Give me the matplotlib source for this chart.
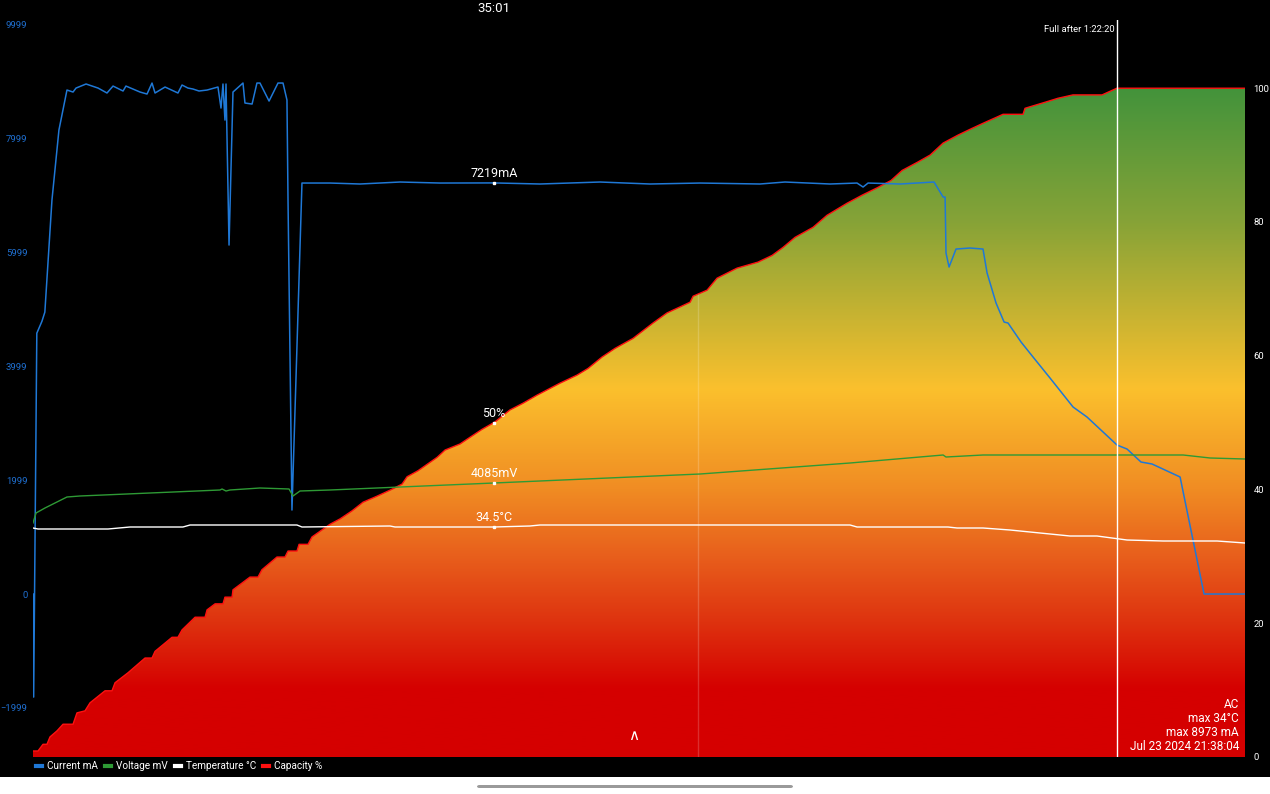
import numpy as np
import matplotlib
matplotlib.use("Agg")
import matplotlib.pyplot as plt
from matplotlib.colors import LinearSegmentedColormap
from matplotlib.lines import Line2D
from matplotlib.patches import Rectangle, FancyBboxPatch

plt.rcParams['font.family'] = ['Roboto', 'DejaVu Sans']

# ---- data (time in minutes since plug-in) ----
cap_t = [0, 0.38, 0.76, 1.06, 1.29, 1.82, 2.28, 3.04, 3.34, 3.95,
         4.33, 5.47, 6.00, 6.23, 7.22, 8.51, 9.04, 9.27, 10.56, 11.01,
         11.32, 12.31, 13.07, 13.22, 13.83, 14.43, 14.58, 15.12, 15.19, 16.48,
         17.09, 17.39, 18.53, 19.14, 19.37, 20.05, 20.21, 20.89, 21.19, 22.56,
         23.32, 24.23, 25.07, 26.13, 27.12, 28.03, 28.41, 29.24, 30.69, 31.30,
         32.43, 33.19, 34.11, 35.09, 36.23, 37.22, 38.28, 40.03, 41.32, 42.16,
         43.22, 44.21, 45.58, 47.10, 48.16, 49.91, 50.14, 51.20, 51.96, 53.48,
         55.07, 56.14, 56.97, 57.88, 59.25, 60.31, 61.83, 62.97, 64.11, 65.17,
         66.01, 67.15, 68.14, 69.13, 70.27, 71.33, 72.32, 73.23, 73.68, 75.20,
         75.35, 76.87, 77.86, 78.99, 81.20, 82.33, 92.06]
cap_pct = [0.9, 0.9, 1.9, 1.9, 3.0, 3.9, 4.9, 4.9, 6.6, 6.9,
           8.1, 9.9, 9.9, 11.1, 12.6, 14.8, 14.8, 15.8, 17.9, 17.9,
           19.0, 20.9, 20.9, 22.0, 22.9, 22.9, 23.9, 23.9, 25.0, 26.9,
           26.9, 28.0, 29.9, 29.9, 30.8, 30.8, 31.8, 31.8, 32.9, 34.8,
           35.6, 36.8, 38.1, 39.0, 39.9, 40.8, 41.9, 42.8, 44.8, 45.9,
           46.8, 47.8, 49.0, 50.1, 51.9, 52.9, 54.1, 55.9, 57.1, 58.1,
           59.8, 61.1, 62.6, 64.9, 66.4, 68.0, 68.9, 69.8, 71.6, 73.1,
           74.0, 75.0, 76.2, 77.7, 79.2, 81.0, 82.8, 84.0, 85.1, 86.2,
           87.7, 88.9, 90.0, 91.8, 93.0, 94.0, 94.9, 95.7, 96.1, 96.1,
           97.0, 97.9, 98.5, 99.0, 99.0, 100, 100]

cur_t = [0, 0.05, 0.29, 0.68, 0.90, 1.44, 1.97, 2.58, 3.04, 3.27,
         4.03, 4.94, 5.62, 6.08, 6.84, 7.06, 8.13, 8.66, 9.04, 9.27,
         10.03, 11.01, 11.32, 11.77, 12.15, 12.61, 13.22, 14.05, 14.28, 14.43,
         14.58, 14.66, 14.89, 15.19, 15.95, 16.10, 16.64, 17.01, 17.24, 17.93,
         18.61, 18.99, 19.29, 19.37, 19.67, 20.43, 22.56, 24.84, 27.88, 30.92,
         35.02, 38.51, 43.07, 46.87, 50.67, 55.22, 57.12, 60.54, 62.59, 63.05,
         63.43, 65.86, 68.44, 69.13, 69.28, 69.35, 69.58, 70.11, 71.17, 72.16,
         72.47, 73.15, 73.76, 74.06, 75.05, 75.96, 77.25, 79.00, 80.06, 82.34,
         83.10, 84.16, 85.00, 87.13, 88.95, 92.06]
cur_ma = [0, -1810, 4580, 4790, 4950, 6919, 8148, 8850, 8815, 8885,
          8956, 8885, 8798, 8920, 8833, 8920, 8815, 8780, 8973, 8798,
          8903, 8798, 8938, 8885, 8868, 8833, 8850, 8903, 8534, 8956,
          8323, 8956, 6128, 8815, 8973, 8622, 8604, 8973, 8973, 8657,
          8973, 8973, 8675, 6919, 1475, 7217, 7217, 7200, 7235, 7217,
          7219, 7200, 7235, 7200, 7217, 7200, 7235, 7200, 7217, 7147,
          7217, 7200, 7235, 6971, 6971, 5988, 5742, 6058, 6076, 6058,
          5637, 5110, 4776, 4759, 4425, 4162, 3793, 3284, 3108, 2616,
          2546, 2318, 2283, 2055, 0, 0]

volt_t = [0, 0.23, 0.91, 2.58, 3.57, 14.20, 14.36, 14.66, 14.96, 17.24,
          19.45, 19.75, 20.28, 22.56, 35.02, 50.67, 62.06, 69.13, 69.35, 72.16,
          87.36, 89.41, 92.06]
volt_mv = [3685, 3785, 3835, 3945, 3955, 4015, 4025, 4005, 4015, 4035,
           4025, 3955, 4005, 4015, 4085, 4175, 4285, 4365, 4345, 4365,
           4365, 4335, 4325]

temp_t = [0, 0.38, 5.70, 7.37, 11.39, 11.93, 20.05, 20.43, 27.12, 27.50,
          35.02, 37.75, 38.51, 62.06, 62.59, 69.50, 70.19, 72.16, 74.21, 78.77,
          80.82, 83.10, 85.84, 89.94, 92.06]
temp_c = [34.4, 34.3, 34.3, 34.5, 34.5, 34.7, 34.7, 34.5, 34.6, 34.5,
          34.5, 34.6, 34.7, 34.7, 34.5, 34.5, 34.4, 34.4, 34.2, 33.6,
          33.6, 33.2, 33.1, 33.1, 32.9]

t_end = 92.06
t_full = 82.33      # 1:22:20
t_sel = 35.02       # 35:01
t_mark = 50.5
sel_labels = ['7219mA', '50%', '4085mV', '34.5°C']
cur_ticks = [-1999, 0, 1999, 3999, 5999, 7999, 9999]
cap_ticks = [0, 20, 40, 60, 80, 100]
legend_names = ['Current mA', 'Voltage mV', 'Temperature °C', 'Capacity %']
info_lines = ['AC', 'max 34°C', 'max 8973 mA', 'Jul 23 2024 21:38:04']

c_cur = '#1f78d6'
c_volt = '#2e9a35'
c_temp = 'white'
c_cap = '#ff1010'

# ---- figure ----
fig = plt.figure(figsize=(12.7, 7.94), dpi=100, facecolor='black')
rect = [33 / 1270, 37 / 794, 1212 / 1270, 737 / 794]
ax = fig.add_axes(rect, facecolor='black')
ax.set_xlim(0, t_end)
ax.set_ylim(0, 110.2)

# capacity with gradient fill
grad = LinearSegmentedColormap.from_list('cap', [
    (0.0, '#d50000'), (0.1, '#d50000'), (0.2, '#de320f'), (0.3, '#e85f1c'),
    (0.4, '#f08c23'), (0.55, '#fbc02d'), (0.8, '#87a337'), (1.0, '#43933b')])
poly = ax.fill_between(cap_t, 0, cap_pct, facecolor='none', edgecolor='none')
im = ax.imshow(np.linspace(0, 1, 256).reshape(-1, 1), cmap=grad, origin='lower',
               extent=[0, t_end, 0, 100], aspect='auto', zorder=1)
im.set_clip_path(poly.get_paths()[0], transform=ax.transData)
ax.plot(cap_t, cap_pct, color=c_cap, lw=1.0, zorder=2)
ax.vlines(t_mark, 0, np.interp(t_mark, cap_t, cap_pct), color='white', alpha=0.18, lw=1, zorder=2)
ax.set_xticks([])

# current
ax_i = ax.twinx()
ax_i.set_ylim(-2862, 10080)
ax_i.plot(cur_t, cur_ma, color=c_cur, lw=1.1)

# voltage / temperature on hidden scales
ax_v = ax.twinx()
ax_v.set_ylim(1345, 8715)
ax_v.plot(volt_t, volt_mv, color=c_volt, lw=1.0)
ax_t = ax.twinx()
ax_t.set_ylim(11.5, 85.2)
ax_t.plot(temp_t, temp_c, color=c_temp, lw=1.0)
for a in (ax_v, ax_t):
    a.set_yticks([])
for a in (ax, ax_i, ax_v, ax_t):
    for s in a.spines.values():
        s.set_visible(False)
for a in (ax_i, ax_v, ax_t):
    a.set_facecolor('none')

# tick sides (after all twins, twinx moves the host ticks)
ax.yaxis.set_ticks_position('right')
ax.set_yticks(cap_ticks)
ax.tick_params(axis='y', length=0, pad=6, labelcolor='white', labelsize=6.8)
ax_i.yaxis.set_ticks_position('left')
ax_i.set_yticks(cur_ticks)
ax_i.tick_params(axis='y', length=0, pad=4, labelcolor='#1f6fd0', labelsize=6.8)

# selected point labels
sel = [(ax_i, np.interp(t_sel, cur_t, cur_ma)), (ax, 50),
       (ax_v, np.interp(t_sel, volt_t, volt_mv)), (ax_t, np.interp(t_sel, temp_t, temp_c))]
for (a, v), lab in zip(sel, sel_labels):
    a.plot([t_sel], [v], 's', ms=2, color='white', zorder=5)
    a.annotate(lab, (t_sel, v), xytext=(0, 2), textcoords='offset points',
               ha='center', va='bottom', color='white', fontsize=9, zorder=6)

# full-charge marker
ax_t.axvline(t_full, color='white', lw=1)
fig.text(1115 / 1270, 1 - 29 / 794, 'Full after 1:22:20', ha='right', va='center',
         color='white', fontsize=6.8)
fig.text(494 / 1270, 1 - 8 / 794, '35:01', ha='center', va='center', color='white', fontsize=9.5)

for k, line in enumerate(info_lines):
    fig.text(1239 / 1270, 1 - (704 + 14 * k) / 794, line, ha='right', va='center',
             color='white', fontsize=8.5)
fig.text(634 / 1270, 1 - 736 / 794, r'$\wedge$', ha='center', va='center',
         color='white', fontsize=11, fontweight='bold')

# legend
handles = [Line2D([], [], color=c, lw=3) for c in (c_cur, c_volt, 'white', c_cap)]
fig.legend(handles, legend_names, loc='center left', bbox_to_anchor=(36 / 1270, 1 - 766 / 794),
           ncol=4, frameon=False, fontsize=7.2, labelcolor='white', handlelength=0.6,
           handletextpad=0.5, columnspacing=0.7, borderaxespad=0, borderpad=0)

# bottom strip with home bar
fig.add_artist(Rectangle((0, 0), 1, 17 / 794, transform=fig.transFigure,
                         facecolor='white', edgecolor='none'))
fig.add_artist(FancyBboxPatch((477 / 1270, 6 / 794), 316 / 1270, 3 / 794,
                              boxstyle='round,pad=0,rounding_size=0.002',
                              transform=fig.transFigure, facecolor='#9a9a9a', edgecolor='none'))

plt.savefig('out.png', dpi=100, facecolor='black')
